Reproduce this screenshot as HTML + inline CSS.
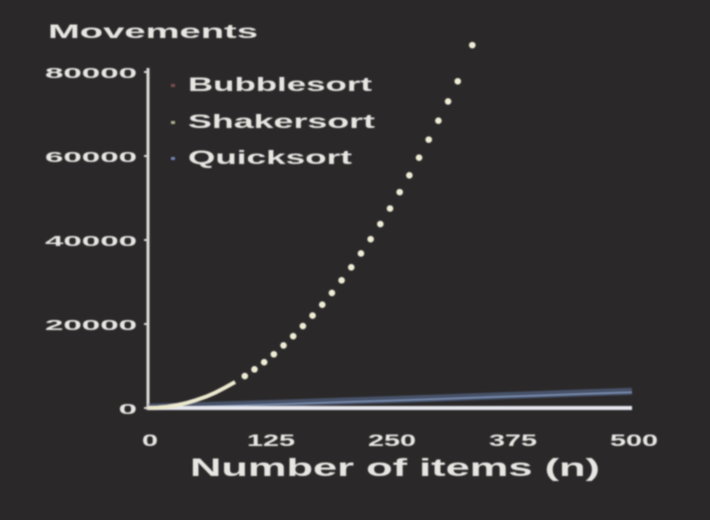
<!DOCTYPE html>
<html><head><meta charset="utf-8"><style>
body{margin:0;background:#2a2829;}
svg{display:block;}
text{font-family:"Liberation Sans",sans-serif;font-weight:bold;fill:#e8e6e2;}
</style></head><body>
<svg width="710" height="520">
<defs><filter id="bl"><feGaussianBlur stdDeviation="0.9"/></filter></defs>
<rect width="710" height="520" fill="#2a2829"/>
<g id="g" filter="url(#bl)"></g>
</svg>
<script>
const xTicks=[0,125,250,375,500];
const yTicks=[0,20000,40000,60000,80000];
const yTickLabels=["0","20000","40000","60000","80000"];
const shakerLineN=[0,10,20,30,40,50,60,70,80,90];
const shakerLineV=[0,80,300,700,1200,1900,2700,3700,4900,6200];
const shakerDotN=[100,110,120,130,140,150,160,170,180,190,200,210,220,230,240,250,260,270,280,290,300,310,320,335];
const shakerDotV=[7600,9200,10900,12800,14900,17100,19500,22000,24600,27400,30400,33500,36800,40200,43800,47500,51400,55400,59600,63900,68400,73000,77800,86400];
const quickN=[0,50,100,150,200,250,300,350,400,450,500];
const quickV=[0,300,650,1000,1400,1750,2150,2550,2950,3350,3750];
const bubbleN=[0,500];
const bubbleV=[0,0];
const X=n=>148+n*0.968, Y=v=>408-v*84/20000;
const g=document.getElementById('g');const NS='http://www.w3.org/2000/svg';
function mk(t,a,txt){const e=document.createElementNS(NS,t);for(const k in a)e.setAttribute(k,a[k]);if(txt!=null)e.textContent=txt;g.appendChild(e);return e;}
let e;
e=mk('text',{x:48,y:38,'font-size':19,textLength:210,lengthAdjust:'spacingAndGlyphs'},'Movements');


e=mk('text',{x:190,y:476,'font-size':25,textLength:410,lengthAdjust:'spacingAndGlyphs'},'Number of items (n)');


e=mk('line',{x1:148,y1:68,x2:148,y2:410,stroke:'#dcdad6','stroke-width':3});


yTicks.forEach((v,i)=>{
 e=mk('line',{x1:144,y1:Y(v),x2:148,y2:Y(v),stroke:'#dcdad6','stroke-width':2});
 
 
 const s=yTickLabels[i];
 e=mk('text',{x:137-s.length*18.4,y:Y(v)+6,'font-size':15,textLength:s.length*18.4,lengthAdjust:'spacingAndGlyphs'},s);
 
 
});
xTicks.forEach(v=>{
 const s=String(v),w=s.length*16;
 e=mk('text',{x:X(v)-w/2+2,y:446,'font-size':17,textLength:w,lengthAdjust:'spacingAndGlyphs'},s);
 
 
});
e=mk('polyline',{points:quickN.map((n,i)=>X(n)+','+(Y(quickV[i])-1)).join(' '),fill:'none',stroke:'#5f749e','stroke-width':7,opacity:0.55});


e=mk('polyline',{points:quickN.map((n,i)=>X(n)+','+Y(quickV[i])).join(' '),fill:'none',stroke:'#8ea4cc','stroke-width':1.5,opacity:0.8});


e=mk('polyline',{points:bubbleN.map((n,i)=>X(n)+','+Y(bubbleV[i])).join(' '),fill:'none',stroke:'#e6e8ee','stroke-width':4});


e=mk('polyline',{points:shakerLineN.map((n,i)=>X(n)+','+Y(shakerLineV[i])).join(' '),fill:'none',stroke:'#ece9cf','stroke-width':4});


shakerDotN.forEach((n,i)=>{
 e=mk('circle',{cx:X(n),cy:Y(shakerDotV[i]),r:3.3,fill:'#efecd6'});
 
 
});
const leg=[['Bubblesort','#7a5050',91,184],['Shakersort','#b0b090',128,187],['Quicksort','#6f86b4',164,164]];
leg.forEach(l=>{
 e=mk('rect',{x:171,y:l[2]-7,width:4,height:3,fill:l[1]});
 
 
 e=mk('text',{x:188,y:l[2],'font-size':19,textLength:l[3],lengthAdjust:'spacingAndGlyphs'},l[0]);
 
 
});
</script>
</body></html>
